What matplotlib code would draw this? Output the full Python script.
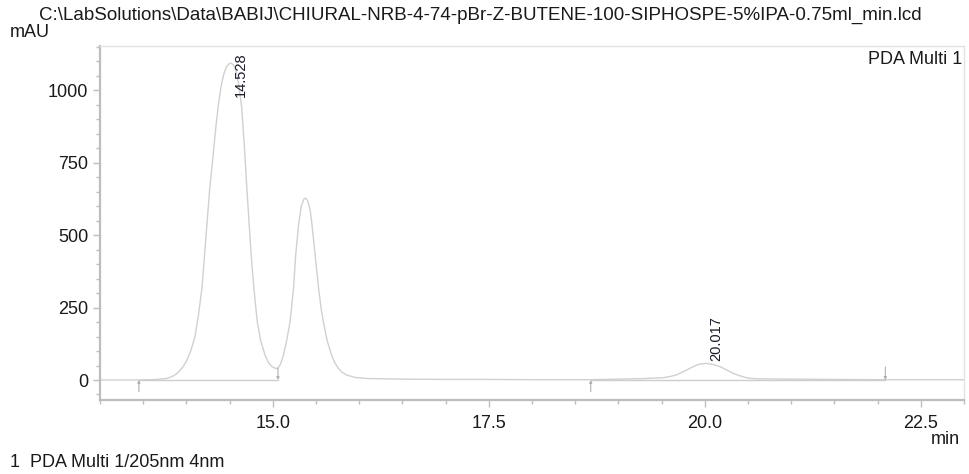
import matplotlib
matplotlib.use('Agg')
import matplotlib.pyplot as plt
from matplotlib.ticker import MultipleLocator

plt.rcParams['font.family'] = ['Liberation Sans', 'DejaVu Sans']

# chromatogram trace (min, mAU)
time_min = [13.00, 13.40, 13.60, 13.70, 13.76, 13.81, 13.86, 13.90, 13.96, 14.00,
            14.05, 14.10, 14.14, 14.18, 14.21, 14.24, 14.27, 14.31, 14.34, 14.37,
            14.40, 14.43, 14.46, 14.49, 14.52, 14.55, 14.58, 14.61, 14.64, 14.67,
            14.70, 14.725, 14.75, 14.78, 14.82, 14.86, 14.91, 14.95, 14.99, 15.03,
            15.06, 15.09, 15.12, 15.16, 15.20, 15.24, 15.265, 15.30, 15.33, 15.36,
            15.38, 15.40, 15.43, 15.45, 15.49, 15.53, 15.56, 15.585, 15.63, 15.68,
            15.72, 15.76, 15.80, 15.855, 15.95, 16.10, 16.50, 17.00, 17.50, 18.00,
            18.50, 18.68, 19.00, 19.30, 19.52, 19.60, 19.675, 19.73, 19.79, 19.85,
            19.91, 19.96, 20.02, 20.09, 20.18, 20.25, 20.33, 20.40, 20.48, 20.55,
            20.63, 21.00, 21.50, 22.00, 22.09, 22.50, 23.00]
mau = [0, 0, 1, 3, 5, 9, 16, 25, 45, 65,
       100, 150, 225, 317, 430, 546, 660, 776, 870, 948,
       1010, 1052, 1078, 1090, 1093, 1085, 1060, 1010, 940, 810,
       661, 545, 431, 320, 201, 135, 86, 60, 46, 40,
       41, 55, 82, 135, 201, 317, 431, 540, 600, 624,
       627, 620, 590, 546, 431, 317, 245, 201, 135, 86,
       58, 40, 27, 17, 9, 5, 3, 2, 2, 1,
       1, 1, 3, 5, 8, 12, 18, 26, 34, 44,
       52, 56, 57, 54, 46, 35, 23, 15, 8, 5,
       4, 3, 2, 1, 1, 1, 1]

# integrated peaks: retention time, start, end
peak_rt = [14.528, 20.017]
peak_start = [13.45, 18.68]
peak_end = [15.06, 22.09]
end_mark_top = [41, 45]

title = r'C:\LabSolutions\Data\BABIJ\CHIURAL-NRB-4-74-pBr-Z-BUTENE-100-SIPHOSPE-5%IPA-0.75ml_min.lcd'

fig = plt.figure(figsize=(9.69, 4.74), dpi=100)
ax = fig.add_axes([0.1032, 0.1561, 0.8916, 0.7469])

trace_col = '#d0d0d0'
ax.plot(time_min, mau, color=trace_col, lw=1.0)

# integration baselines and start/end marks
for s, e, h in zip(peak_start, peak_end, end_mark_top):
    ax.plot([s, e], [0, 0], color='#cdcdcd', lw=1.0)
    ax.annotate('', xy=(s, 0), xytext=(s, -40),
                arrowprops=dict(arrowstyle='-|>', color='#b0b0b0', lw=0.8,
                                mutation_scale=4, shrinkA=0, shrinkB=0))
    ax.annotate('', xy=(e, 0), xytext=(e, h),
                arrowprops=dict(arrowstyle='-|>', color='#b0b0b0', lw=0.8,
                                mutation_scale=4, shrinkA=0, shrinkB=0))

# retention time labels
ax.text(14.63, 1131, f'{peak_rt[0]:.3f}', rotation=90, ha='center', va='top',
        fontsize=10.5, color='#1a1a2a')
ax.text(20.13, 64, f'{peak_rt[1]:.3f}', rotation=90, ha='center', va='bottom',
        fontsize=10.5, color='#1a1a2a')

ax.set_xlim(13.0, 23.0)
ax.set_ylim(-69, 1152)
ax.set_xticks([15.0, 17.5, 20.0, 22.5])
ax.set_xticklabels(['15.0', '17.5', '20.0', '22.5'])
ax.set_yticks([0, 250, 500, 750, 1000])
ax.xaxis.set_minor_locator(MultipleLocator(0.5))
ax.yaxis.set_minor_locator(MultipleLocator(50))

spine_col = '#bdbdbd'
for side in ['left', 'bottom']:
    ax.spines[side].set_color(spine_col)
    ax.spines[side].set_linewidth(1.6)
for side in ['top', 'right']:
    ax.spines[side].set_color('#e2e2e2')
    ax.spines[side].set_linewidth(1.0)
ax.tick_params(which='major', length=5, width=1.0, color=spine_col,
               labelsize=13, labelcolor='#1a1a1a')
ax.tick_params(which='minor', length=3.2, width=1.0, color=spine_col)
ax.tick_params(axis='x', which='major', pad=6)
ax.tick_params(axis='y', which='major', pad=3.5)

ax.text(0.998, 0.985, 'PDA Multi 1', transform=ax.transAxes, ha='right', va='top',
        fontsize=13, color='#1a1a1a')

fig.text(0.496, 0.968, title, ha='center', va='center', fontsize=13.5, color='#1a1a1a')
fig.text(0.010, 0.932, 'mAU', ha='left', va='center', fontsize=13, color='#1a1a1a')
fig.text(0.991, 0.072, 'min', ha='right', va='center', fontsize=13, color='#1a1a1a')
fig.text(0.010, 0.025, '1  PDA Multi 1/205nm 4nm', ha='left', va='center',
         fontsize=13, color='#1a1a1a')

fig.savefig('out.png', dpi=100)
